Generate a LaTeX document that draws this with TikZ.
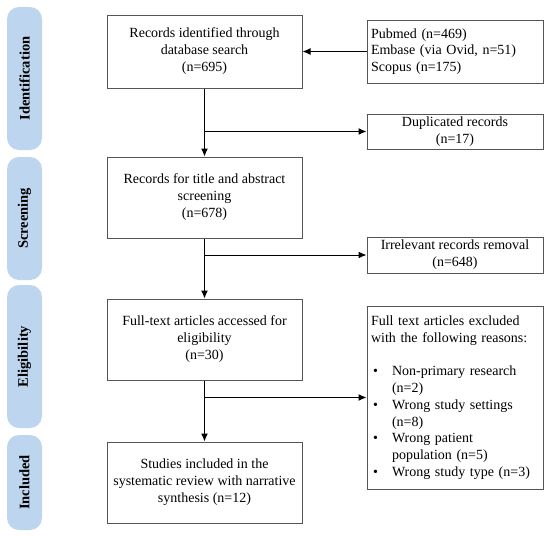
\documentclass[tikz,border=0pt]{standalone}
\usepackage{fontspec}
\setmainfont{Liberation Serif}
\usetikzlibrary{arrows.meta}
\definecolor{bandblue}{RGB}{189,213,238}
\definecolor{boxgray}{RGB}{85,85,85}

\begin{document}
\begin{tikzpicture}[x=1pt, y=-1pt,
  box/.style={draw=boxgray, line width=1pt, minimum width=195pt, inner sep=2pt, align=center, font=\fontsize{14}{17}\selectfont},
  sidebox/.style={draw=boxgray, line width=1pt, minimum width=176pt, inner sep=2pt, align=center, font=\fontsize{14}{16.8}\selectfont},
  band/.style={fill=bandblue, rounded corners=12pt, rotate=90, minimum height=35pt, inner sep=0pt, font=\bfseries\fontsize{14.5}{16}\selectfont},
  arr/.style={-{Latex[length=8pt,width=7pt]}, line width=1pt}
]
\useasboundingbox (0,0) rectangle (550,536);

% phase bands
\node[band, minimum width=143pt] (ident)  at (24.5,78.5)  {Identification};
\node[band, minimum width=123pt] (screen) at (24.5,218.5) {Screening};
\node[band, minimum width=143pt] (elig)   at (24.5,356.5) {Eligibility};
\node[band, minimum width=95pt]  (incl)   at (24.5,482.5) {Included};

% main column
\node[box, minimum height=73pt] (rec)  at (204.5,51.5)  {Records identified through\\database search\\(n=695)};
\node[box, minimum height=81pt] (tab)  at (204.5,197.5) {Records for title and abstract\\screening\\(n=678)};
\node[box, minimum height=81pt] (full) at (204.5,339.5) {Full-text articles accessed for\\eligibility\\(n=30)};
\node[box, minimum height=81pt] (fin)  at (204.5,482.5) {Studies included in the\\systematic review with narrative\\synthesis (n=12)};

% side column
\node[sidebox, minimum height=63pt, align=left, text width=168pt] (db) at (455,51.5) {Pubmed (n=469)\\Embase (via Ovid, n=51)\\Scopus (n=175)};
\node[sidebox, minimum height=35pt] (dup)  at (455,131.5) {Duplicated records\\(n=17)};
\node[sidebox, minimum height=36pt] (irr)  at (455,255)   {Irrelevant records removal\\(n=648)};
\node[sidebox, minimum height=183pt, align=left, text width=168pt] (excl) at (455,397.5) {Full text articles excluded\\with the following reasons:\\[16.8pt]
\makebox[21pt][l]{\hspace{2pt}\textbullet}Non-primary research\\\hspace*{21pt}(n=2)\\
\makebox[21pt][l]{\hspace{2pt}\textbullet}Wrong study settings\\\hspace*{21pt}(n=8)\\
\makebox[21pt][l]{\hspace{2pt}\textbullet}Wrong patient\\\hspace*{21pt}population (n=5)\\
\makebox[21pt][l]{\hspace{2pt}\textbullet}Wrong study type (n=3)};

% connectors
\draw[arr] (db) -- (rec);
\draw[arr] (rec) -- (tab);
\draw[arr] (tab) -- (full);
\draw[arr] (full) -- (fin);
\draw[arr] (rec.south |- dup.west) -- (dup.west);
\draw[arr] (tab.south |- irr.west) -- (irr.west);
\draw[arr] (full.south |- excl.west) -- (excl.west);
\end{tikzpicture}
\end{document}
